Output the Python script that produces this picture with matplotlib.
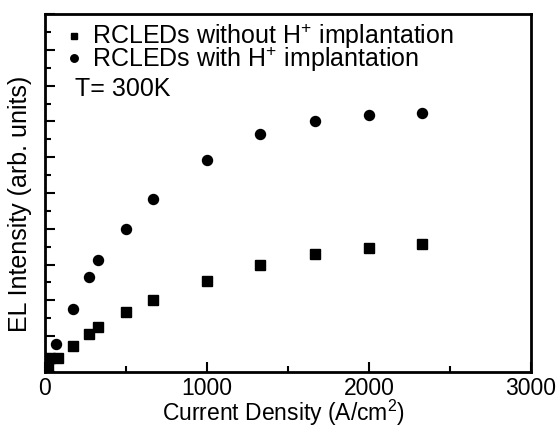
import matplotlib
matplotlib.use("Agg")
import matplotlib.pyplot as plt
from matplotlib.ticker import MultipleLocator, NullFormatter

plt.rcParams['font.family'] = ['Liberation Sans', 'DejaVu Sans']
plt.rcParams['mathtext.fontset'] = 'custom'
plt.rcParams['mathtext.rm'] = 'Liberation Sans'
plt.rcParams['mathtext.it'] = 'Liberation Sans'
plt.rcParams['mathtext.bf'] = 'Liberation Sans:bold'

sq_x = [20, 30, 80, 170, 270, 330, 500, 670, 1000, 1330, 1670, 2000, 2330]
sq_y = [0.14, 0.38, 0.39, 0.73, 1.06, 1.26, 1.68, 2.01, 2.54, 2.99, 3.30, 3.46, 3.58]
ci_x = [70, 170, 270, 330, 500, 670, 1000, 1330, 1670, 2000, 2330]
ci_y = [0.78, 1.76, 2.65, 3.13, 3.99, 4.83, 5.92, 6.65, 7.01, 7.18, 7.23]

label_sq = "RCLEDs without H$^{+}$ implantation"
label_ci = "RCLEDs with H$^{+}$ implantation"
temp_text = "T= 300K"
xlabel = "Current Density (A/cm$^{2}$)"
ylabel = "EL Intensity (arb. units)"

fig = plt.figure(figsize=(5.59, 4.29), dpi=100)
ax = fig.add_axes([0.0805, 0.133, 0.869, 0.834])
ax.plot(sq_x, sq_y, 's', color='black', markersize=6.5, linestyle='none', label=label_sq)
ax.plot(ci_x, ci_y, 'o', color='black', markersize=7.2, linestyle='none', label=label_ci)

ax.set_xlim(0, 3000)
ax.set_ylim(0, 10)
ax.xaxis.set_major_locator(MultipleLocator(1000))
ax.xaxis.set_minor_locator(MultipleLocator(500))
ax.yaxis.set_major_locator(MultipleLocator(1))
ax.yaxis.set_minor_locator(MultipleLocator(0.5))
ax.yaxis.set_major_formatter(NullFormatter())
ax.tick_params(axis='both', which='both', direction='in', top=False, right=False)
ax.tick_params(axis='both', which='major', length=7, width=1.5, labelsize=16.5, pad=4)
ax.tick_params(axis='both', which='minor', length=4, width=1.5)
for s in ax.spines.values():
    s.set_linewidth(2)

ax.set_xlabel(xlabel, fontsize=16.5)
ax.xaxis.set_label_coords(0.49, -0.158)
ax.xaxis.label.set_va('bottom')
ax.set_ylabel(ylabel, fontsize=18)
ax.yaxis.set_label_coords(-0.052, 0.47)
ax.yaxis.label.set_va('center')

leg = ax.legend(loc='upper left', frameon=False, fontsize=18, markerscale=0.75,
                handlelength=0.5, handletextpad=0.45, borderaxespad=0.0,
                labelspacing=-0.28, borderpad=0.2, bbox_to_anchor=(0.037, 0.992))
ax.text(0.062, 0.79, temp_text, transform=ax.transAxes, fontsize=18, va='center', ha='left')

fig.savefig("out.png", dpi=100)
